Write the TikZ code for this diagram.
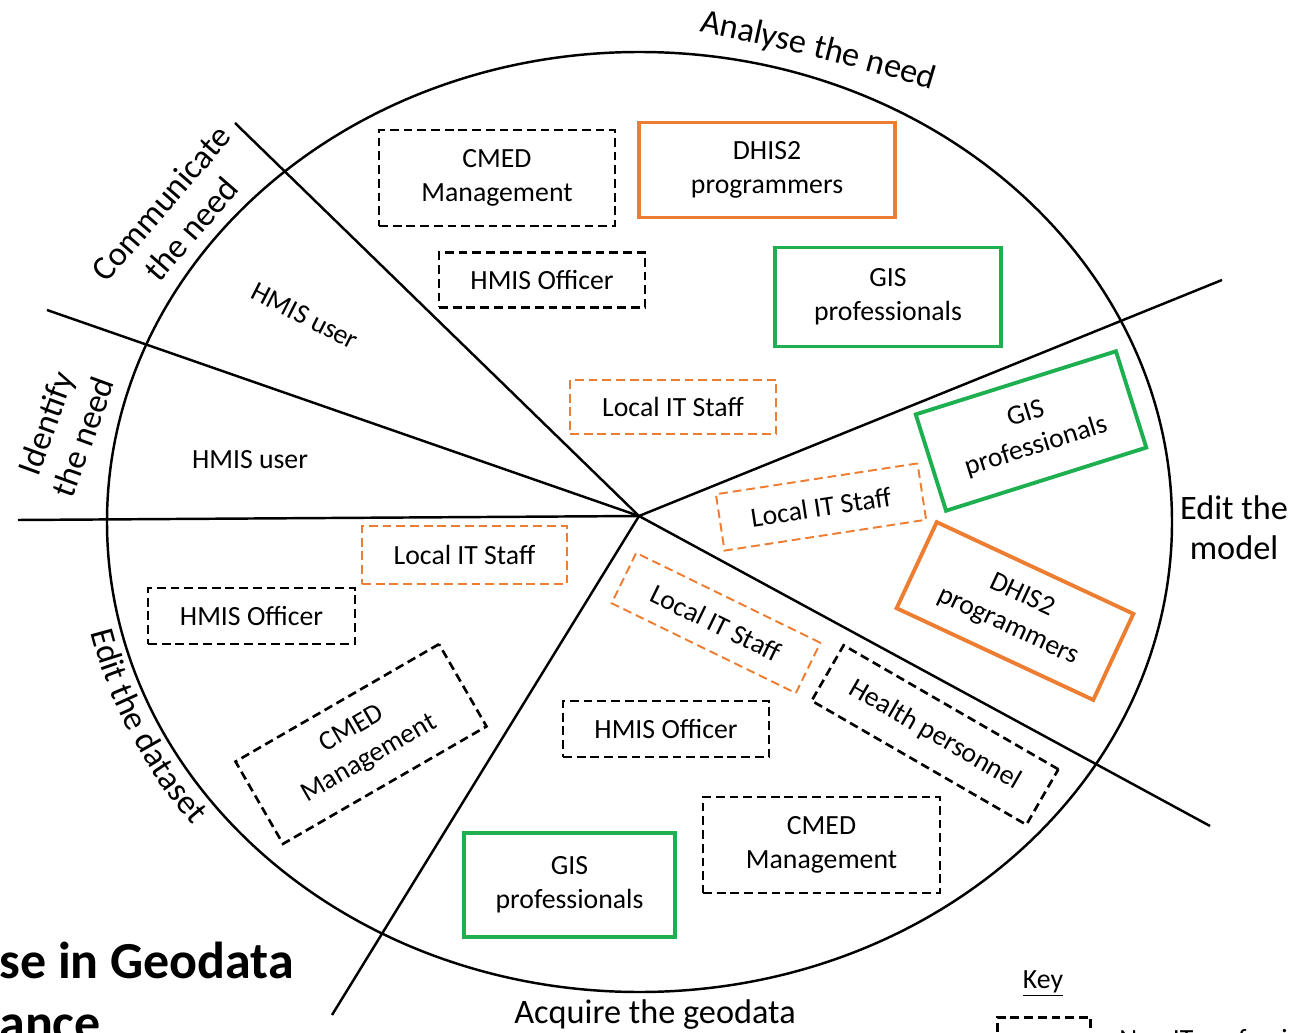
\documentclass[tikz,border=0pt]{standalone}
\usepackage{fontspec}
\setmainfont{Carlito}
\usetikzlibrary{decorations.text}

\definecolor{itorange}{RGB}{237,125,49}
\definecolor{gisgreen}{RGB}{30,176,80}

\newcommand{\boxfont}{\fontsize{15.8}{19.3}\selectfont}
\newcommand{\stagefont}{\fontsize{19.5}{22.7}\selectfont}
\newcommand{\titlefont}{\bfseries\fontsize{29.6}{35}\selectfont}

\tikzset{
  role/.style={align=center, inner sep=0pt, font=\boxfont},
  nonit/.style={role, draw, line width=1.5pt, dash pattern=on 5pt off 2.8pt},
  itstaff/.style={role, draw=itorange, line width=1.5pt, dash pattern=on 5pt off 2.8pt},
  dhis/.style={role, draw=itorange, line width=2.2pt},
  gis/.style={role, draw=gisgreen, line width=2.2pt},
  stage/.style={align=center, inner sep=0pt, font=\stagefont}
}

\begin{document}
\begin{tikzpicture}[x=0.02cm, y=0.02cm]
        \useasboundingbox (0,0) rectangle (1301,-1033);

        \draw[line width=1.4pt] (639.5,-522) ellipse [x radius=532.5, y radius=470];

        \coordinate (hub) at (639,-516);
        \coordinate (e1) at (235,-123);
        \coordinate (e2) at (47,-310);
        \coordinate (e3) at (18,-520);
        \coordinate (e4) at (332,-1015);
        \coordinate (e5) at (1210,-826);
        \coordinate (e6) at (1222,-280);

        \draw[line width=1.4pt] (hub) -- (e1);
        \draw[line width=1.4pt] (hub) -- (e2);
        \draw[line width=1.4pt] (hub) -- (e3);
        \draw[line width=1.4pt] (hub) -- (e4);
        \draw[line width=1.4pt] (hub) -- (e5);
        \draw[line width=1.4pt] (hub) -- (e6);

        \path[decorate, decoration={text along path, text={|\stagefont|Analyse the need}, text align=center}]
          (697,-31) .. controls (775,-47) and (855,-66) .. (934,-90);
        \path[decorate, decoration={text along path, text={|\stagefont|Edit the dataset}, text align=center}]
          (639.5,-522) ++(191:562.5 and 500) arc [start angle=191, end angle=219, x radius=562.5, y radius=500];

        \node[stage, rotate=49] (communicate) at (176,-216) {Communicate\\the need};
        \node[stage, rotate=70] (identify) at (64,-430) {Identify\\the need};
        \node[stage] (model) at (1234,-528) {Edit the\\model};
        \node[stage, anchor=base] (acquire) at (655,-1023) {Acquire the geodata};

        \node[nonit, minimum width=4.72cm, minimum height=1.92cm] (cmedA) at (497,-178) {CMED\\Management};
        \node[dhis, minimum width=5.12cm, minimum height=1.9cm] (dhisA) at (767,-170) {DHIS2\\programmers};
        \node[nonit, minimum width=4.12cm, minimum height=1.1cm] (hmisA) at (542,-280) {HMIS Officer};
        \node[gis, minimum width=4.52cm, minimum height=1.98cm] (gisA) at (888,-297) {GIS\\professionals};
        \node[itstaff, minimum width=4.12cm, minimum height=1.08cm] (itA) at (673,-407) {Local IT Staff};

        \node[role, rotate=-27] (userC) at (305,-316) {HMIS user};
        \node[role] (userI) at (250,-460) {HMIS user};

        \node[gis, rotate=17.5, minimum width=4.2cm, minimum height=2.02cm] (gisM) at (1031,-431) {GIS\\professionals};
        \node[itstaff, line width=1.1pt, rotate=8.7, minimum width=4.08cm, minimum height=1.14cm] (itM) at (821,-507) {Local IT Staff};
        \node[dhis, rotate=-25, minimum width=4.34cm, minimum height=1.9cm] (dhisM) at (1015,-611) {DHIS2\\programmers};

        \node[itstaff, line width=1.1pt, rotate=-26, minimum width=4.1cm, minimum height=1.12cm] (itQ) at (716,-623) {Local IT Staff};
        \node[nonit, rotate=-30, minimum width=4.96cm, minimum height=1.28cm] (healthQ) at (935,-735) {Health personnel};
        \node[nonit, minimum width=4.12cm, minimum height=1.12cm] (hmisQ) at (666,-729) {HMIS Officer};
        \node[nonit, minimum width=4.74cm, minimum height=1.92cm] (cmedQ) at (821.5,-845) {CMED\\Management};
        \node[gis, minimum width=4.22cm, minimum height=2.08cm] (gisQ) at (569.5,-885) {GIS\\professionals};

        \node[itstaff, minimum width=4.1cm, minimum height=1.16cm] (itD) at (464.5,-555) {Local IT Staff};
        \node[nonit, minimum width=4.14cm, minimum height=1.12cm] (hmisD) at (251.5,-616) {HMIS Officer};
        \node[nonit, rotate=30, minimum width=4.7cm, minimum height=1.9cm] (cmedD) at (361,-744) {CMED\\Management};

        \node[anchor=base west, inner sep=0pt, font=\titlefont] (title) at (-1,-978) {se in Geodata};
        \node[anchor=base west, inner sep=0pt, font=\titlefont] (titlecont) at (-1,-1040) {ance};

        \node[role, anchor=base] (key) at (1043,-988) {\underline{Key}};
        \node[nonit, anchor=north, minimum width=1.86cm, minimum height=1.1cm] (keybox) at (1044,-1016) {};
        \node[role, anchor=base west] (keytext) at (1119,-1048) {Non IT professionals};
      \end{tikzpicture}
\end{document}
